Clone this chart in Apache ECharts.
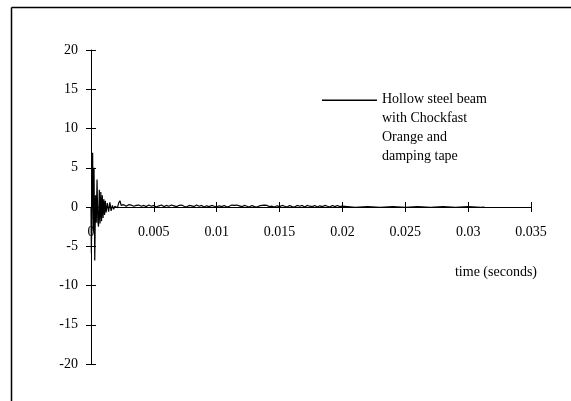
<!DOCTYPE html>
<html><head><meta charset="utf-8">
<script src="https://cdn.jsdelivr.net/npm/echarts@6/dist/echarts.min.js"></script>
<style>html,body{margin:0;padding:0;background:#fff}#c{width:571px;height:401px}</style>
</head><body><div id="c"></div>
<script>
const seriesName = 'Hollow steel beam\nwith Chockfast\nOrange and\ndamping tape';
const xAxisName = 'time (seconds)';
const xTickValues = [0, 0.005, 0.01, 0.015, 0.02, 0.025, 0.03, 0.035];
const yTickValues = [-20, -15, -10, -5, 0, 5, 10, 15, 20];

// time (s) of each sample
const timeSec = [
  0, 0.00003, 0.00008, 0.00013, 0.00018, 0.00024, 0.0003, 0.00036, 0.00042, 0.00048,
  0.00054, 0.0006, 0.00066, 0.00072, 0.00078, 0.00084, 0.0009, 0.00096, 0.00102, 0.00108,
  0.00114, 0.0012,
  0.0013, 0.0014, 0.0015, 0.0016, 0.0017, 0.0018, 0.0019, 0.002, 0.0021, 0.0022,
  0.0023, 0.0024, 0.0025, 0.0026, 0.0027, 0.0028, 0.0029, 0.003, 0.0031, 0.0032,
  0.0033, 0.0034, 0.0035, 0.0036, 0.0037, 0.0038, 0.0039, 0.004,
  0.0042, 0.0044, 0.0046, 0.0048, 0.005, 0.0052, 0.0054, 0.0056, 0.0058, 0.006,
  0.0062, 0.0064, 0.0066, 0.0068, 0.007, 0.0072, 0.0074, 0.0076, 0.0078, 0.008,
  0.0082, 0.0084, 0.0086, 0.0088, 0.009, 0.0092, 0.0094, 0.0096, 0.0098, 0.01,
  0.0102, 0.0104, 0.0106, 0.0108, 0.011, 0.0112, 0.0114, 0.0116, 0.0118, 0.012,
  0.0122, 0.0124, 0.0126, 0.0128, 0.013, 0.0132, 0.0134, 0.0136, 0.0138, 0.014,
  0.0142, 0.0144, 0.0146, 0.0148, 0.015, 0.0152, 0.0154, 0.0156, 0.0158, 0.016,
  0.0162, 0.0164, 0.0166, 0.0168, 0.017, 0.0172, 0.0174, 0.0176, 0.0178, 0.018,
  0.0182, 0.0184, 0.0186, 0.0188, 0.019, 0.0192, 0.0194, 0.0196, 0.0198, 0.02,
  0.021, 0.022, 0.023, 0.024, 0.025, 0.026, 0.027, 0.028, 0.029, 0.03, 0.031, 0.0313
];
// response amplitude at each sample
const amplitude = [
  0, -5.9, 2.0, 6.9, -3.0, 5.0, -6.8, 1.5, -2.0, 3.5,
  -1.8, -2.5, 2.2, -2.1, 1.9, -1.8, 1.5, -1.4, 1.0, -1.0,
  0.8, -0.7,
  0.5, -0.6, 0.6, -0.5, 0.2, -0.3, 0.1, 0.3, -0.1, 0.5,
  0.8, 0.2, 0.1, 0.3, 0.35, 0.1, 0.2, 0.3, 0.15, 0.25,
  0.2, 0.1, 0.3, 0.2, 0.15, 0.25, 0.3, 0.1,
  0.2, 0.05, 0.25, 0.1, 0.2, 0.0, 0.15, 0.25, 0.05, 0.2,
  0.1, 0.25, 0.15, 0.05, 0.2, 0.25, 0.1, 0.0, 0.2, 0.15,
  0.05, 0.25, 0.1, 0.2, 0.0, 0.15, 0.05, 0.2, 0.1, 0.0,
  0.15, 0.05, 0.2, 0.0, 0.1, 0.25, 0.2, 0.25, 0.15, 0.05,
  0.2, 0.1, 0.0, 0.2, 0.05, 0.0, 0.15, 0.2, 0.25, 0.2,
  0.05, 0.1, 0.0, 0.15, 0.05, 0.2, 0.1, 0.0, 0.2, 0.05,
  0.0, 0.2, 0.1, 0.2, 0.0, 0.2, 0.1, 0.05, 0.2, 0.0,
  0.15, 0.05, 0.2, 0.1, 0.0, 0.2, 0.05, 0.2, 0.05, 0.1,
  -0.05, 0.05, -0.05, 0.05, -0.05, 0.05, -0.05, 0.05, -0.05, 0.05, -0.05, 0
];

const FONT = "'Liberation Serif', 'Times New Roman', serif";
const BLACK = '#000';
const points = timeSec.map((t, i) => [t, amplitude[i]]);
const xMin = xTickValues[0], xMax = xTickValues[xTickValues.length - 1];
const yMin = yTickValues[0], yMax = yTickValues[yTickValues.length - 1];

const tick = { show: true, inside: false, length: 5, lineStyle: { color: BLACK, width: 1 } };
const line = { show: true, onZero: false, lineStyle: { color: BLACK, width: 1 } };
const noLine = { show: false, onZero: false };
const hiddenX = (g) => ({ type: 'value', gridIndex: g, min: xMin, max: xMax, interval: 0.005, show: false });
const hiddenY = (g) => ({ type: 'value', gridIndex: g, min: yMin, max: yMax, interval: 5, show: false });

const chart = echarts.init(document.getElementById('c'), null, { renderer: 'canvas' });
chart.setOption({
  animation: false,
  backgroundColor: '#fff',
  grid: [
    // 0: plot area (series + y axis, left half of ticks and labels)
    { left: 91, right: 40, top: 50, bottom: 37 },
    // 1: shifted 5px right: right half of the y ticks
    { left: 96, right: 35, top: 50, bottom: 37 },
    // 2: upper half, bottom edge is the y = 0 line: x axis, lower half of ticks, labels, name
    { left: 91, right: 40, top: 50, bottom: 194 },
    // 3: shifted 5px up: upper half of the x ticks
    { left: 91, right: 40, top: 45, bottom: 199 }
  ],
  xAxis: [
    hiddenX(0),
    hiddenX(1),
    {
      type: 'value', gridIndex: 2, position: 'bottom', min: xMin, max: xMax, interval: 0.005,
      axisLine: line, axisTick: tick, splitLine: { show: false },
      axisLabel: { show: true, margin: 18, color: BLACK, fontFamily: FONT, fontSize: 14,
        formatter: v => String(v) },
      name: xAxisName, nameLocation: 'end', nameGap: 6,
      nameTextStyle: { color: BLACK, fontFamily: FONT, fontSize: 14, align: 'right',
        verticalAlign: 'top', padding: [58, 0, 0, 0] }
    },
    {
      type: 'value', gridIndex: 3, position: 'bottom', min: xMin, max: xMax, interval: 0.005,
      axisLine: noLine, axisTick: tick, splitLine: { show: false }, axisLabel: { show: false }
    }
  ],
  yAxis: [
    {
      type: 'value', gridIndex: 0, position: 'left', min: yMin, max: yMax, interval: 5,
      axisLine: line, axisTick: tick, splitLine: { show: false },
      axisLabel: { show: true, margin: 13, color: BLACK, fontFamily: FONT, fontSize: 14 }
    },
    {
      type: 'value', gridIndex: 1, position: 'left', min: yMin, max: yMax, interval: 5,
      axisLine: noLine, axisTick: tick, splitLine: { show: false }, axisLabel: { show: false }
    },
    hiddenY(2),
    hiddenY(3)
  ],
  legend: {
    show: true, left: 317, top: 85, orient: 'vertical',
    itemWidth: 55, itemHeight: 76,
    icon: 'path://M0,9.5H55V11H0Z M0,0H0.01V0.01H0Z M54.99,75.99H55V76H54.99Z',
    textStyle: { color: BLACK, fontFamily: FONT, fontSize: 14, lineHeight: 19 },
    selectedMode: false,
    data: [seriesName]
  },
  graphic: [
    { type: 'line', silent: true, shape: { x1: 11.5, y1: 7.5, x2: 571, y2: 7.5 },
      style: { stroke: BLACK, lineWidth: 1.5 } },
    { type: 'line', silent: true, shape: { x1: 11.5, y1: 7.5, x2: 11.5, y2: 401 },
      style: { stroke: BLACK, lineWidth: 1.5 } }
  ],
  series: [{
    name: seriesName, type: 'line', xAxisIndex: 0, yAxisIndex: 0,
    data: points, showSymbol: false, symbol: 'none',
    lineStyle: { color: BLACK, width: 1.2 }, itemStyle: { color: BLACK },
    z: 3
  }]
});
</script>
</body></html>
